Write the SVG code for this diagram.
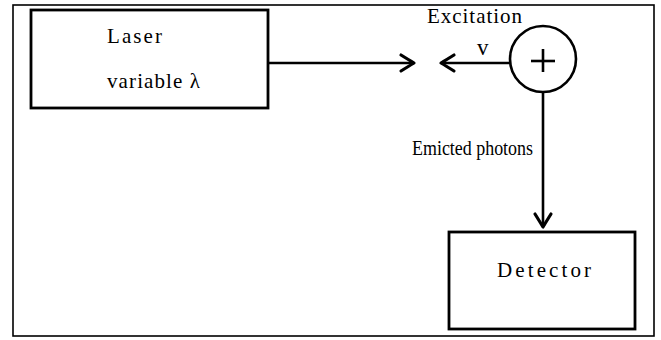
<svg xmlns="http://www.w3.org/2000/svg" width="661" height="340" viewBox="0 0 661 340">
<style>
.box{fill:none;stroke:#000;stroke-width:2.8}
.frame{fill:none;stroke:#000;stroke-width:1.6}
.t{font-family:"Liberation Serif","Times New Roman",serif;font-size:21px;fill:#000}
.c{fill:none;stroke:#000;stroke-width:2.6}
</style>
<defs>
<marker id="arr" viewBox="-16 -10 18 20" markerWidth="18" markerHeight="20" refX="0" refY="0" orient="auto" markerUnits="userSpaceOnUse" overflow="visible">
<path d="M-13,-8 Q-5,-3 0,0 Q-5,3 -13,8" fill="none" stroke="#000" stroke-width="3.2" stroke-linecap="round" stroke-linejoin="round"/>
</marker>
</defs>
<rect width="661" height="340" fill="#fff"/>
<rect class="frame" x="13" y="5" width="641" height="331"/>
<g id="laser">
<rect class="box" x="31" y="10" width="237" height="98"/>
<text class="t" x="107" y="43" textLength="55">Laser</text>
<text class="t" x="107" y="88" textLength="93">variable λ</text>
</g>
<g id="sample">
<circle class="c" cx="543" cy="59" r="33"/>
<line class="c" x1="531" y1="61" x2="555" y2="61"/>
<line class="c" x1="543" y1="49" x2="543" y2="72"/>
</g>
<g id="detector">
<rect class="box" x="449" y="232" width="186" height="97"/>
<text class="t" x="497" y="277" textLength="94">Detector</text>
</g>
<g id="connectors">
<line class="c" x1="268" y1="63" x2="414" y2="63" marker-end="url(#arr)"/>
<line class="c" x1="510" y1="63" x2="441" y2="63" marker-end="url(#arr)"/>
<line class="c" x1="543" y1="92" x2="543" y2="227" marker-end="url(#arr)"/>
</g>
<g id="labels">
<text class="t" x="427" y="23" textLength="95">Excitation</text>
<text class="t" x="477" y="55" style="font-size:23px" textLength="13">v</text>
<text class="t" x="412" y="155" style="font-size:20px" textLength="121" lengthAdjust="spacingAndGlyphs">Emicted photons</text>
</g>
</svg>
